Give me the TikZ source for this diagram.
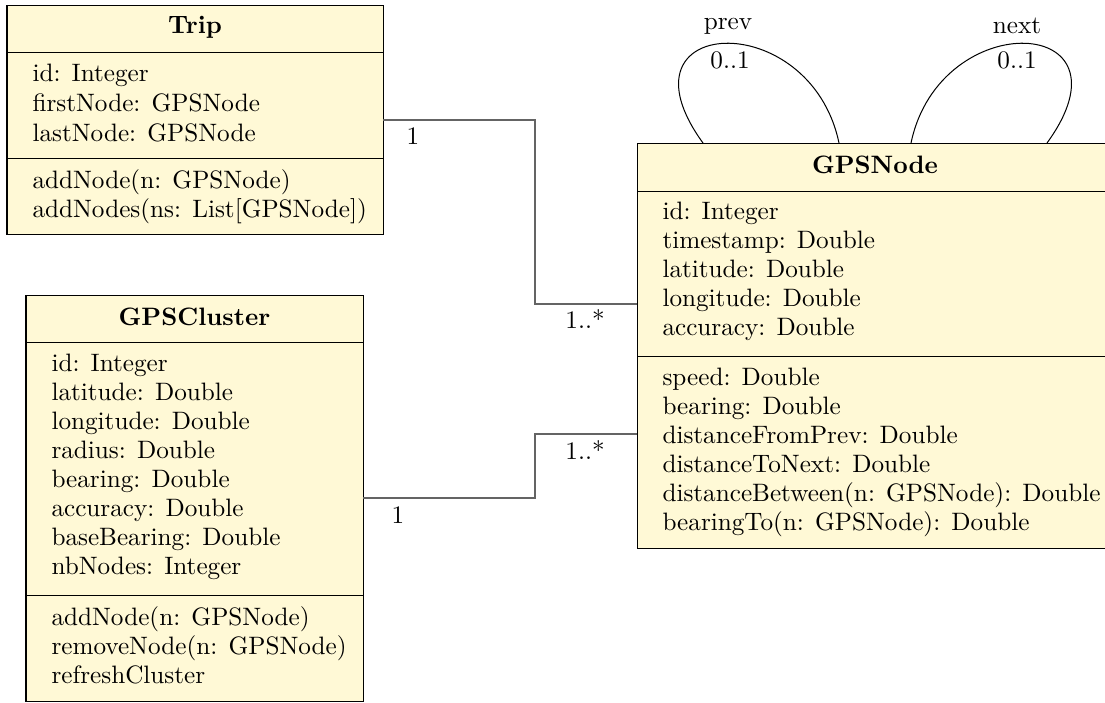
\documentclass[tikz,border=0pt]{standalone}
\definecolor{umlfill}{RGB}{255,249,214}
\definecolor{connc}{RGB}{100,100,100}
\begin{document}
\begin{tikzpicture}[x=0.397pt,y=-0.397pt,
  box/.style={draw=black, fill=umlfill, line width=0.4pt, inner sep=0pt, outer sep=0pt, anchor=north west},
  sep/.style={draw=black, line width=0.4pt},
  txt/.style={anchor=west, inner sep=0pt, text height=1.5ex, text depth=.25ex},
  ttl/.style={anchor=center, inner sep=0pt, text height=1.5ex, text depth=.25ex, font=\bfseries},
  conn/.style={draw=connc, line width=0.45pt},
  lbl/.style={anchor=center, inner sep=0pt, text height=1.5ex, text depth=.25ex},
  loopline/.style={draw=black, line width=0.4pt}]
\useasboundingbox (0,0) rectangle (1105,702);

% ---------- Trip ----------
\node[box, minimum width=376*0.397pt, minimum height=229*0.397pt] (trip) at (7,5) {};
\draw[sep] (7,52) -- (383,52);
\draw[sep] (7,158) -- (383,158);
\node[ttl] (tripT) at (195,27) {Trip};
\node[txt] (trip1) at (32,75) {id: Integer};
\node[txt] (trip2) at (32,105) {firstNode: GPSNode};
\node[txt] (trip3) at (32,135) {lastNode: GPSNode};
\node[txt] (trip4) at (32,182) {addNode(n: GPSNode)};
\node[txt] (trip5) at (32,211) {addNodes(ns: List[GPSNode])};

% ---------- GPSCluster ----------
\node[box, minimum width=337*0.397pt, minimum height=406*0.397pt] (clu) at (26,295) {};
\draw[sep] (26,342) -- (363,342);
\draw[sep] (26,595) -- (363,595);
\node[ttl] (cluT) at (194.5,319) {GPSCluster};
\node[txt] (clu1) at (51,365) {id: Integer};
\node[txt] (clu2) at (51,394) {latitude: Double};
\node[txt] (clu3) at (51,423) {longitude: Double};
\node[txt] (clu4) at (51,452) {radius: Double};
\node[txt] (clu5) at (51,481) {bearing: Double};
\node[txt] (clu6) at (51,510) {accuracy: Double};
\node[txt] (clu7) at (51,539) {baseBearing: Double};
\node[txt] (clu8) at (51,568) {nbNodes: Integer};
\node[txt] (clu9) at (51,619) {addNode(n: GPSNode)};
\node[txt] (clu10) at (51,648) {removeNode(n: GPSNode)};
\node[txt] (clu11) at (51,677) {refreshCluster};

% ---------- GPSNode ----------
\node[box, minimum width=480*0.397pt, minimum height=405*0.397pt] (gps) at (637,143) {};
\draw[sep] (637,191) -- (1117,191);
\draw[sep] (637,356) -- (1117,356);
\node[ttl] (gpsT) at (875,167) {GPSNode};
\node[txt] (gps1) at (662,213) {id: Integer};
\node[txt] (gps2) at (662,242) {timestamp: Double};
\node[txt] (gps3) at (662,271) {latitude: Double};
\node[txt] (gps4) at (662,300) {longitude: Double};
\node[txt] (gps5) at (662,329) {accuracy: Double};
\node[txt] (gps6) at (662,379) {speed: Double};
\node[txt] (gps7) at (662,408) {bearing: Double};
\node[txt] (gps8) at (662,437) {distanceFromPrev: Double};
\node[txt] (gps9) at (662,466) {distanceToNext: Double};
\node[txt] (gps10) at (662,495) {distanceBetween(n: GPSNode): Double};
\node[txt] (gps11) at (662,524) {bearingTo(n: GPSNode): Double};

% ---------- connectors ----------
\coordinate (tripOut) at (383,120);
\coordinate (gpsIn1) at (637,304);
\coordinate (bend1) at (535,120);
\draw[conn] (tripOut) -- (bend1) |- (gpsIn1);
\node[lbl] (m1) at (413,138) {1};
\node[lbl] (m2) at (585,322) {1..*};

\coordinate (cluOut) at (363,498);
\coordinate (gpsIn2) at (637,434);
\coordinate (bend2) at (535,498);
\draw[conn] (cluOut) -- (bend2) |- (gpsIn2);
\node[lbl] (m3) at (398,517) {1};
\node[lbl] (m4) at (585,453) {1..*};

% ---------- self loops ----------
\coordinate (p1) at (703,143);
\coordinate (p2) at (839,143);
\draw[loopline] (p2) .. controls (810,5) and (610,15) .. (p1);
\node[lbl] (prevL) at (728,23) {prev};
\node[lbl] (prevM) at (730,62) {0..1};

\coordinate (n1) at (911,143);
\coordinate (n2) at (1047,143);
\draw[loopline] (n1) .. controls (940,5) and (1140,15) .. (n2);
\node[lbl] (nextL) at (1017,27) {next};
\node[lbl] (nextM) at (1017,62) {0..1};
\end{tikzpicture}
\end{document}
